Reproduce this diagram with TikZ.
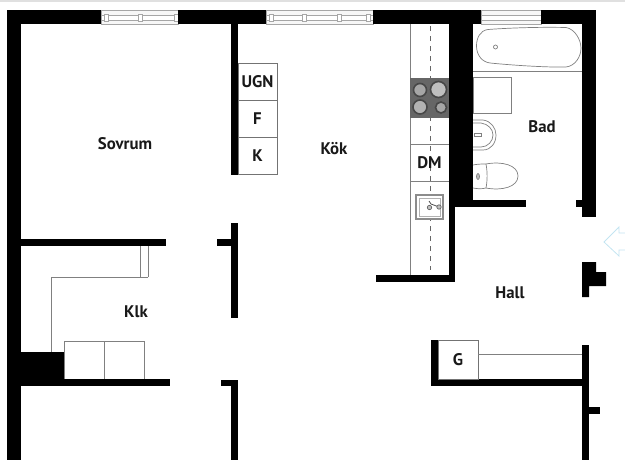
\documentclass[tikz,border=0pt]{standalone}
\usepackage{fontspec}
\setmainfont{PT Sans}
\usepackage{tikz}

\begin{document}
\begin{tikzpicture}
        [
            x = 1pt, y = -1pt,
            wall/.style = {fill=black},
            thinline/.style = {draw=black!50, line width=0.8pt},
            fixture/.style = {draw=black!50, line width=0.7pt, fill=white},
            room/.style = {font=\bfseries\fontsize{16.8}{18}\selectfont, text=black!90, inner sep=0pt},
            unit/.style = {rectangle, draw=black!55, line width=0.8pt, fill=white, inner sep=0pt, font=\bfseries\fontsize{16.8}{18}\selectfont, text=black!90},
            plate/.style = {draw=black!72, fill=black!35, line width=1.6pt}
        ]
        \useasboundingbox (0, 0) rectangle (625, 460);
        \fill[black!12] (0, 0) rectangle (625, 2);

        % windows
        \draw[thinline, draw=black!35, fill=black!3] (101, 10) rectangle (178, 24);
        \draw[thinline, draw=black!35, fill=white] (101, 15.5) rectangle (178, 20);
        \draw[thinline, draw=black!35, fill=black!3] (266, 10) rectangle (373, 24);
        \draw[thinline, draw=black!35, fill=white] (266, 15.5) rectangle (373, 20);
        \draw[thinline, draw=black!35, fill=black!3] (481, 10) rectangle (541, 24);
        \draw[thinline, draw=black!35, fill=white] (481, 15.5) rectangle (541, 20);
        \foreach \mx in {106, 140, 176, 271, 304, 339, 368}
            \draw[thinline, draw=black!35, fill=white] (\mx-2, 14.5) rectangle (\mx+2, 21);

        % outer walls
        \fill[wall] (7, 10) rectangle (101, 24);
        \fill[wall] (178, 10) rectangle (266, 24);
        \fill[wall] (373, 10) rectangle (481, 24);
        \fill[wall] (541, 10) rectangle (596, 24);
        \fill[wall] (7, 10) rectangle (21, 460);
        \fill[wall] (582, 10) rectangle (596, 217);
        \fill[wall] (576, 200) rectangle (582, 207);
        \fill[wall] (582, 262) -- (596, 262) -- (596, 272) -- (606, 272) -- (606, 286) -- (589, 286) -- (589, 297) -- (582, 297) -- cycle;
        \fill[wall] (582, 345) rectangle (589, 460);
        \fill[wall] (589, 407) rectangle (600, 414);

        % inner walls
        \fill[wall] (231, 24) rectangle (238, 175);
        \fill[wall] (449, 24) rectangle (473, 207);
        \fill[wall] (449, 207) rectangle (455, 282);
        \fill[wall] (473, 200) rectangle (526, 207);
        \fill[wall] (376, 275) rectangle (449, 282);
        \fill[wall] (21, 239) rectangle (166, 246);
        \fill[wall] (217, 239) rectangle (231, 246);
        \fill[wall] (231, 223) rectangle (238, 318);
        \fill[wall] (21, 352) rectangle (64, 380);
        \fill[wall] (21, 379) rectangle (170, 386);
        \fill[wall] (221, 380) rectangle (238, 386);
        \fill[wall] (231, 380) rectangle (238, 460);
        \fill[wall] (431, 340) rectangle (438, 386);
        \fill[wall] (431, 379) rectangle (582, 386);

        % kitchen units
        \node [unit, minimum width=39pt, minimum height=37pt] at (257.5, 82) (ugn) {UGN};
        \node [unit, minimum width=39pt, minimum height=37pt] at (257.5, 119) (f) {F};
        \node [unit, minimum width=39pt, minimum height=37pt] at (257.5, 156) (k) {K};

        % kitchen counter
        \draw[thinline] (410, 24) -- (410, 275);
        \draw[thinline] (410, 144) -- (449, 144);
        \draw[thinline] (410, 181) -- (449, 181);
        \draw[thinline, draw=black!60, dashed, dash pattern=on 5pt off 5pt] (430, 26) -- (430, 270);
        \node [room] at (429.5, 163) (dm) {DM};
        \fill[black!60] (410, 78) rectangle (449, 118);
        \draw[plate] (420, 90) circle (6.5);
        \draw[plate, fill=black!25] (438.5, 89.5) circle (8);
        \draw[plate, fill=black!30] (420, 107) circle (7);
        \draw[plate] (441, 107.5) circle (5.5);
        \draw[black!45, line width=1.2pt, fill=white] (416, 195) rectangle (443, 219);
        \draw[black!30, line width=0.6pt] (419, 198) rectangle (440, 216);
        \draw[black!70, line width=0.8pt] (429, 201) -- (431, 204) -- (439, 207);
        \draw[black!60, fill=black!25, line width=0.7pt] (429.5, 207.5) circle (2.2);
        \draw[black!60, fill=black!25, line width=0.7pt] (439, 207) circle (2.2);

        % bathroom
        \draw[thinline] (473, 71) -- (582, 71);
        \draw[fixture] (488, 29.5) .. controls (515, 27.5) and (545, 27) .. (566, 27.5) .. controls (575, 29) and (581, 40) .. (581, 48) .. controls (581, 57) and (575, 66) .. (566, 67) .. controls (545, 67.5) and (510, 65) .. (490, 63) .. controls (482, 62) and (476.5, 55) .. (476.5, 46) .. controls (476.5, 38) and (480, 30.5) .. (488, 29.5) -- cycle;
        \draw[fixture] (495.5, 47) circle (2);
        \draw[fixture] (473, 77) rectangle (511, 113);
        \draw[fixture] (473, 120) -- (483, 120) .. controls (491, 121) and (496, 128) .. (496, 135) .. controls (496, 143) and (491, 150) .. (483, 150) -- (473, 150);
        \draw[fixture] (473, 123) -- (481, 123) .. controls (488, 124) and (493, 129) .. (493, 135) .. controls (493, 141) and (488, 147) .. (481, 147) -- (473, 147);
        \draw[fixture] (474, 133.5) rectangle (481, 136.5);
        \draw[fixture] (486, 164) .. controls (502, 161) and (518, 165) .. (518, 176) .. controls (518, 187) and (502, 191) .. (486, 188);
        \draw[fixture] (473, 165) .. controls (478, 164) and (482, 164) .. (486, 164) .. controls (487.5, 172) and (487.5, 180) .. (486, 188) .. controls (482, 189) and (478, 189) .. (473, 188);
        \draw[fixture, fill=black!25] (478, 176.5) ellipse (1.5 and 3);

        % closet and shelves
        \node [unit, minimum width=40pt, minimum height=39pt] at (458, 359.5) (g) {G};
        \draw[thinline] (478, 354) -- (582, 354);
        \draw[thinline] (140, 246) -- (140, 277);
        \draw[thinline] (148, 246) -- (148, 277);
        \draw[thinline] (148, 277) -- (51, 277) -- (51, 352);
        \draw[thinline] (64, 379) -- (64, 341) -- (144, 341) -- (144, 379);
        \draw[thinline] (104, 341) -- (104, 379);

        % entrance arrow
        \draw[draw=black!20!cyan!25!white, line width=0.8pt] (625, 233) -- (619, 233) -- (619, 227) -- (604, 242) -- (619, 256) -- (619, 250) -- (625, 250);

        % room names
        \node [room] at (125, 144) (sovrum) {Sovrum};
        \node [room] at (334, 149) (kok) {Kök};
        \node [room] at (542, 127) (bad) {Bad};
        \node [room] at (136, 312) (klk) {Klk};
        \node [room] at (510, 293) (hall) {Hall};
    \end{tikzpicture}
\end{document}
